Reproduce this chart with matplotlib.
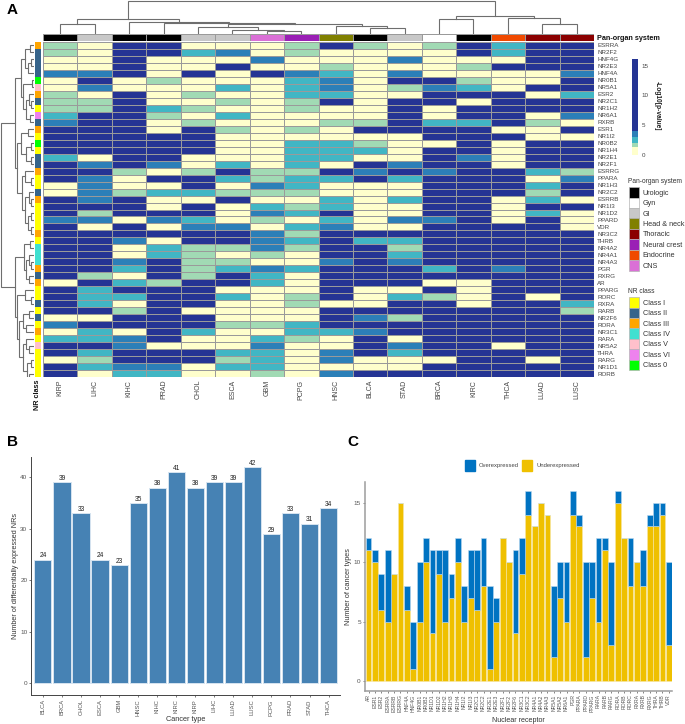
import matplotlib
matplotlib.use('Agg')
import matplotlib.pyplot as plt
import numpy as np
from matplotlib.colors import ListedColormap, BoundaryNorm
from matplotlib.patches import Patch

plt.rcParams['font.family'] = ['Liberation Sans', 'DejaVu Sans']

W, H = 685, 724

# ---------- Panel A data ----------
cols = ['KIRP','LIHC','KIHC','PRAD','CHOL','ESCA','GBM','PCPG','HNSC','BLCA','STAD','BRCA','KIRC','THCA','LUAD','LUSC']
rows = ['ESRRA','NR2F2','HNF4G','NR2E3','HNF4A','NR0B1','NR5A1','ESR2','NR2C1','NR1H2','NR6A1','RXRB',
        'ESR1','NR1I2','NR0B2','NR1H4','NR2E1','NR2F1','ESRRG','PPARA','NR1H3','NR2C2','ESRRB','NR1I3',
        'NR1D2','PPARD','VDR','NR3C2','THRB','NR4A2','NR4A1','NR4A3','PGR','RXRG','AR','PPARG','RORC',
        'RXRA','RARB','NR2F6','RORA','NR3C1','RARA','NR5A2','THRA','RARG','NR1D1','RORB']
# y < 1.3, g 1.3-2, t 2-3, b 3-4, n > 4 (-log10 p bands)
heat_codes = [
 'gynnyyygngygntnn', 'gynntbygyyyyntnn', 'yynyyybyyybyyynn', 'yynyynyygyyygnnn',
 'bbnynynbtybyyyyb', 'ynygyyytbynngyyn', 'ybyyytytbygbtynn', 'gynygyyttyynnnyt',
 'ggnyygygnynnynnn', 'ggntgyygyynynnnn', 'tnngytyyyynynnyb', 'bnnygyyyggnttngy',
 'nnnyngygynnnnyyn', 'nnnnnyyyyyynnnyy', 'nnnnnyyttgyynynn', 'nnnnnyytttynnynn',
 'tynnyyyttyynbynn', 'nbnbytytynbnnynn', 'nngygnggnbnbnntg', 'nbynntgttntnnnyb',
 'ybyynybtyyynnntn', 'ybgttgggyyynnngn', 'nbnyynyytytnnyty', 'nnnynytgtyynnynn',
 'ngnnnybtnyynnyty', 'bbybtygytybbnyny', 'nynybbytbyynnnny', 'nnnnnnbgnnnnnnnn',
 'nnbynnbtnttnnnnn', 'nnytggbgnngnnnnn', 'nnytgygynntnnnnn', 'nnbnggyybnbnnnnn',
 'nntngtbtnnntnbnn', 'ngyngntynnnnnnnn', 'yntgnntynnnyynnn', 'ntnnnyyynyynynnn',
 'nttnntygnytgynyn', 'ntynnyygyynnynnt', 'nngnyyyynnnnnnng', 'yynnnyyynbgnnnnn',
 'bnnnnggtnnnnnnnn', 'ytyntyyttbnnnnnn', 'ttbnyytgynynnnnn', 'nnbyyybyynbnnynn',
 'ntnnnttybntnnnnn', 'ygnnngtybyyynnyn', 'ntbbyttyyyynnnnn', 'nyttyygybnnnnnnn']
band_value = {'y': 0.6, 'g': 1.7, 't': 2.5, 'b': 3.5, 'n': 10.0}
band_edges = [0, 1.3, 2, 3, 4, 16.1]
band_colors = ['#FFFFCC', '#A1DAB4', '#41B6C4', '#2C7FB8', '#253494']

organ_names = ['Urologic','Gyn','GI','Head & neck','Thoracic','Neural crest','Endocrine','CNS']
organ_colors = ['#000000','#FFFFFF','#C8C8C8','#808000','#8B0000','#9A1FB5','#F04A00','#DA70D6']
col_organ = [0,2,0,0,2,2,7,5,3,0,2,1,0,6,4,4]

class_names = ['Class I','Class II','Class III','Class IV','Class V','Class VI','Class 0']
class_colors = ['#FFFF00','#36648B','#FFA500','#40E0D0','#FFC0CB','#EE82EE','#00FF00']
row_class = [2,1,1,1,1,6,4,2,1,0,5,1,2,0,6,0,1,1,2,0,0,1,2,0,0,0,0,2,0,3,3,3,2,1,2,0,0,1,0,1,0,2,0,4,0,0,0,0]

# dendrograms: (height, left, right); None is a leaf
L = None
col_tree = (33.5,
    (15, (10, L, L),
         (12.5, L, (11, L, (9.7, (7.3, L, (4, L, (3, L, L))), (8.5, L, (6.5, L, L)))))),
    (18.5, (15, L, L), (16.5, L, (10.5, L, L))))
row_tree = (33.5,
    (19.5,
      (13, (9, (4, L, L), (6.5, (3, L, L), L)),
           (11, (2.5, L, L), (8.5, (5, L, (3.5, L, L)), (4, L, L)))),
      (17, (13, (6, L, L), (8, (3, L, L), (3.5, L, L))),
           (12, (9, L, (3, L, L)), (9, (5, L, (3, L, L)), (6, (3, L, L), (3.5, L, L)))))),
    (19.5,
      (10, (4, L, L), (8, (5, L, (3, L, L)), (5, L, L))),
      (17, (9, L, (3.5, L, L)),
           (15, (11, (5, L, L), (8, L, L)),
                (11, (8, L, (5, L, L)), (7, (3.5, L, L), (5, L, (3, L, L))))))))

# ---------- Panel B data ----------
b_types = ['BLCA','BRCA','CHOL','ESCA','GBM','HNSC','KIHC','KIRC','KIRP','LIHC','LUAD','LUSC','PCPG','PRAD','STAD','THCA']
b_counts = [24,39,33,24,23,35,38,41,38,39,39,42,29,33,31,34]

# ---------- Panel C data ----------
c_nr = ['AR','ESR1','ESR2','ESRRA','ESRRB','ESRRG','HNF4A','HNF4G','NR0B1','NR0B2','NR1D1','NR1D2','NR1H2','NR1H3','NR1H4','NR1I2',
        'NR1I3','NR2C1','NR2C2','NR2E1','NR2E3','NR2F1','NR2F2','NR2F6','NR3C1','NR3C2','NR4A1','NR4A2','NR4A3','NR5A1','NR5A2','NR6A1',
        'PGR','PPARA','PPARD','PPARG','RARA','RARB','RARG','RORA','RORB','RORC','RXRA','RXRB','RXRG','THRA','THRB','VDR']
c_under = [11,10,6,5,9,15,6,1,5,10,4,9,5,7,10,5,7,6,8,1,5,12,10,4,9,14,13,15,14,2,7,5,14,13,2,7,5,11,3,15,12,8,10,8,13,13,14,3]
c_over  = [1,1,3,6,0,0,2,4,5,2,7,2,6,2,2,3,4,5,4,7,2,0,0,7,3,2,0,0,0,6,3,5,2,1,8,3,7,1,7,1,0,4,0,3,1,2,1,7]

heat = np.array([[band_value[c] for c in r] for r in heat_codes])

fig = plt.figure(figsize=(W/100, H/100), dpi=100, facecolor='white')

def pax(x0, y0, x1, y1, **kw):
    return fig.add_axes([x0/W, 1-y1/H, (x1-x0)/W, (y1-y0)/H], **kw)

def draw_tree(ax, tree, vertical, color='#6e6e6e', lw=0.8):
    counter = [0]
    def rec(node):
        if node is None:
            p = counter[0] + 0.5
            counter[0] += 1
            return p, 0
        h, l, r = node
        p1, h1 = rec(l)
        p2, h2 = rec(r)
        xs, ys = [p1, p1, p2, p2], [h1, h, h, h2]
        if vertical:
            ax.plot(xs, ys, color=color, lw=lw, solid_joinstyle='miter')
        else:
            ax.plot(ys, xs, color=color, lw=lw, solid_joinstyle='miter')
        return (p1 + p2) / 2, h
    rec(tree)
    ax.axis('off')

# heat map
cmap = ListedColormap(band_colors)
norm = BoundaryNorm(band_edges, cmap.N)
ax = pax(43, 42, 594, 377)
ax.pcolormesh(np.arange(17), np.arange(49), heat, cmap=cmap, norm=norm, edgecolors='#9a9a9a', linewidth=0.6)
ax.set_xlim(0, 16); ax.set_ylim(48, 0)
ax.set_xticks(np.arange(16)+.5, cols, rotation=90, fontsize=5, color='#444444')
ax.yaxis.tick_right()
ax.set_yticks(np.arange(48)+.5, rows, fontsize=4.5, color='#444444')
ax.tick_params(length=0, pad=2)
ax.tick_params(axis='y', pad=2.2)
for s in ax.spines.values():
    s.set_visible(False)

# annotation strips
a1 = pax(43, 34, 594, 40.5)
a1.pcolormesh(np.arange(17), [0, 1], np.array([col_organ]), cmap=ListedColormap(organ_colors), vmin=-.5, vmax=7.5,
              edgecolors='#9a9a9a', linewidth=0.5)
a1.axis('off')
a2 = pax(34.5, 42, 41, 377)
a2.pcolormesh([0, 1], np.arange(49), np.array(row_class)[:, None], cmap=ListedColormap(class_colors), vmin=-.5, vmax=6.5)
a2.set_ylim(48, 0)
a2.axis('off')

# dendrograms
d1 = pax(43, 0, 594, 34)
d1.set_xlim(0, 16); d1.set_ylim(0, 34)
draw_tree(d1, col_tree, True)
d2 = pax(0, 42, 34, 377)
d2.set_xlim(34, 0); d2.set_ylim(48, 0)
draw_tree(d2, row_tree, False)

fig.text(597/W, 1-38/H, 'Pan-organ system', fontsize=5.2, fontweight='bold', va='center', ha='left', color='#111111')
fig.text(37.5/W, 1-379/H, 'NR class', fontsize=5.2, fontweight='bold', va='top', ha='center', rotation=90, color='#111111')
fig.text(7/W, 1-10/H, 'A', fontsize=11, fontweight='bold', va='center', ha='left')
fig.text(7/W, 1-442/H, 'B', fontsize=11, fontweight='bold', va='center', ha='left')
fig.text(347/W, 1-442/H, 'C', fontsize=11, fontweight='bold', va='center', ha='left')

# colour bar
cb = pax(632, 59, 638, 155)
cb.pcolormesh([0, 1], band_edges, np.array(band_edges[:-1])[:, None] + 0.01, cmap=cmap, norm=norm)
cb.set_ylim(0, 16.1); cb.set_xticks([])
cb.yaxis.tick_right()
cb.set_yticks([0, 5, 10, 15], ['0', '5', '10', '15'], fontsize=4.5, color='#444444')
cb.tick_params(length=0, pad=2.5)
for s in cb.spines.values():
    s.set_visible(False)
fig.text(657/W, 1-106/H, '-Log10[p-value]', rotation=270, fontsize=4.8, fontweight='bold', ha='center', va='center', color='#222222')

# legends of panel A
def swatch_legend(names, colors, title, x, y):
    hs = [Patch(facecolor=c, edgecolor='#b5b5b5', linewidth=0.5, label=n) for n, c in zip(names, colors)]
    lg = fig.legend(handles=hs, title=title, loc='upper left', bbox_to_anchor=(x/W, 1-y/H), frameon=False, fontsize=5.2,
                    title_fontsize=4.8, handlelength=1.45, handleheight=1.85, handletextpad=0.5, labelspacing=0.0,
                    borderpad=0, borderaxespad=0, labelcolor='#333333')
    lg.get_title().set_color('#333333')
    lg._legend_box.align = 'left'
    lg._legend_box.sep = 1.5
    return lg

swatch_legend(organ_names, organ_colors, 'Pan-organ system', 628.5, 178)
swatch_legend(class_names, class_colors, 'NR class', 628.5, 288)

# Panel B
axb = pax(31.5, 457, 340, 695)
bx = np.arange(len(b_types))
bars = axb.bar(bx, b_counts, width=0.9, color='#4682B4', edgecolor='#d6e4f0', linewidth=0.7)
axb.bar_label(bars, labels=[str(v) for v in b_counts], fontsize=4.8, padding=0.2, color='#222222')
axb.set_xlim(-0.6, 15.6); axb.set_ylim(-2.27, 43.95)
axb.set_xticks(bx, b_types, rotation=90, fontsize=4.2, color='#555555')
axb.set_yticks([0, 10, 20, 30, 40])
axb.tick_params(axis='y', labelsize=4.6, labelcolor='#555555', length=1.5, width=0.5, pad=1.5, color='#444444')
axb.tick_params(axis='x', length=1.5, width=0.5, pad=1.5, color='#444444')
axb.set_xlabel('Cancer type', fontsize=5.3, color='#333333', labelpad=0.5)
axb.set_ylabel('Number of differentially expressed NRs', fontsize=5.2, color='#333333', labelpad=0.5)
for s in ['top', 'right']:
    axb.spines[s].set_visible(False)
for s in ['left', 'bottom']:
    axb.spines[s].set_linewidth(0.7); axb.spines[s].set_color('#444444')

# Panel C
axc = pax(365, 482, 672, 691)
cx = np.arange(len(c_nr))
axc.bar(cx, c_under, width=0.9, color='#EFC000', edgecolor='#f7e7a8', linewidth=0.4, label='Underexpressed')
axc.bar(cx, c_over, bottom=c_under, width=0.9, color='#0073C2', edgecolor='#bcd9ef', linewidth=0.4, label='Overexpressed')
axc.set_xlim(-0.55, 47.5); axc.set_ylim(-0.84, 16.74)
axc.set_xticks(cx, c_nr, rotation=90, fontsize=3.7, color='#555555')
axc.set_yticks([0, 5, 10, 15])
axc.tick_params(axis='y', labelsize=4.6, labelcolor='#555555', length=1.5, width=0.5, pad=1.5, color='#555555')
axc.tick_params(axis='x', length=1.5, width=0.5, pad=1, color='#555555')
axc.set_xlabel('Nuclear receptor', fontsize=5.1, color='#333333', labelpad=3)
axc.set_ylabel('Number of cancer types', fontsize=5.2, color='#333333', labelpad=1.5)
for s in ['top', 'right']:
    axc.spines[s].set_visible(False)
for s in ['left', 'bottom']:
    axc.spines[s].set_linewidth(1.1); axc.spines[s].set_color('#9c9c9c')
h = [Patch(color='#0073C2', label='Overexpressed'), Patch(color='#EFC000', label='Underexpressed')]
fig.legend(handles=h, loc='center left', bbox_to_anchor=(464.5/W, 1-465.5/H), ncol=2, frameon=False, fontsize=4.2,
           handlelength=1.75, handleheight=2.3, handletextpad=0.75, columnspacing=0.45, borderpad=0, borderaxespad=0,
           labelcolor='#444444')

fig.savefig('out.png', dpi=100, facecolor='white')
